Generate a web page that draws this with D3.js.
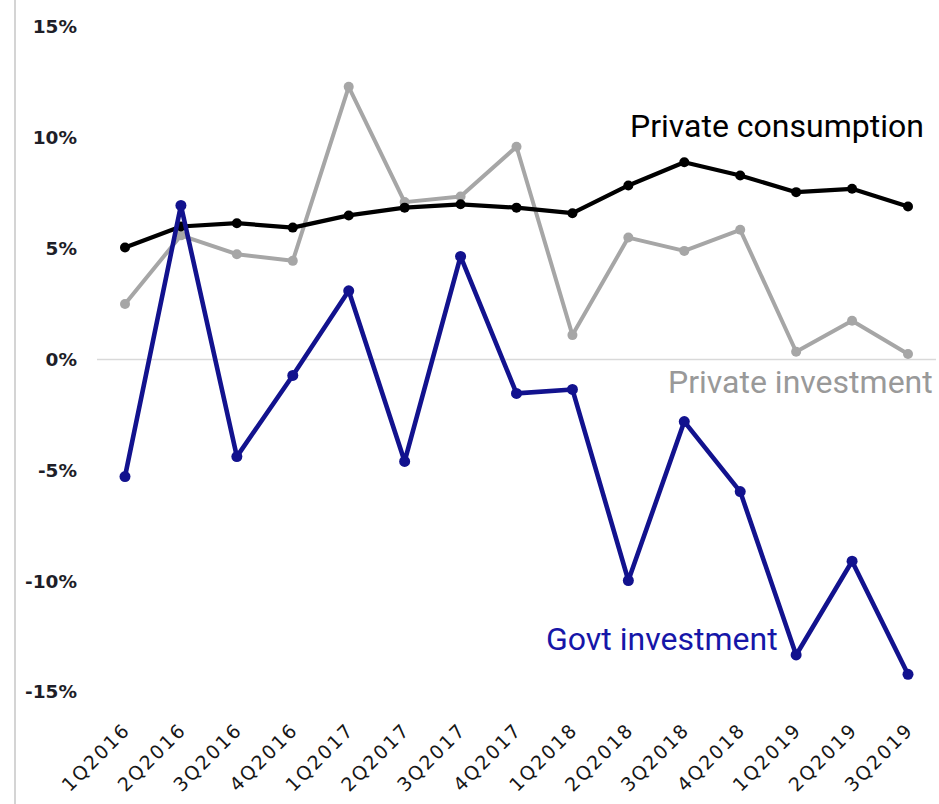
<!DOCTYPE html>
<html>
<head>
<meta charset="utf-8">
<script src="https://cdn.jsdelivr.net/npm/d3@7"></script>
<style>
  html, body { margin: 0; padding: 0; background: #fff; }
  svg { display: block; }
</style>
</head>
<body>
<svg id="chart" width="939" height="804"></svg>
<script>
// Quarterly growth rates (%, year on year)
const quarters = ["1Q2016","2Q2016","3Q2016","4Q2016","1Q2017","2Q2017","3Q2017","4Q2017",
                  "1Q2018","2Q2018","3Q2018","4Q2018","1Q2019","2Q2019","3Q2019"];
const privateConsumption = [5.05, 6.0, 6.15, 5.95, 6.5, 6.85, 7.0, 6.85, 6.6, 7.85, 8.9, 8.3, 7.55, 7.7, 6.9];
const privateInvestment  = [2.5, 5.6, 4.75, 4.45, 12.3, 7.1, 7.35, 9.6, 1.1, 5.5, 4.9, 5.85, 0.35, 1.75, 0.25];
const govtInvestment     = [-5.28, 6.95, -4.38, -0.72, 3.1, -4.6, 4.65, -1.53, -1.35, -9.97, -2.8, -5.96, -13.33, -9.1, -14.2];
const yTicks = [15, 10, 5, 0, -5, -10, -15];

const svg = d3.select("#chart");

const x = d3.scalePoint().domain(quarters).range([125, 908]);
const y = d3.scaleLinear().domain([-15, 15]).range([692, 27]);

// left frame line
svg.append("line")
  .attr("x1", 15).attr("x2", 15).attr("y1", 0).attr("y2", 804)
  .attr("stroke", "#d4d4d4").attr("stroke-width", 2);

// zero baseline
svg.append("line")
  .attr("x1", 97).attr("x2", 936).attr("y1", y(0)).attr("y2", y(0))
  .attr("stroke", "#d9d9d9").attr("stroke-width", 1.5);

// y axis labels
const yAxis = d3.axisLeft(y).tickValues(yTicks).tickSize(0).tickPadding(0)
  .tickFormat(d => d + "%");
svg.append("g")
  .attr("transform", "translate(77,0)")
  .call(yAxis)
  .call(g => g.select(".domain").remove())
  .call(g => g.selectAll("text")
    .attr("font-family", "'DejaVu Sans', Verdana, sans-serif")
    .attr("font-weight", "bold")
    .attr("font-size", 18.5)
    .attr("fill", "#1e1e28"));

// x axis labels, rotated
const xAxis = d3.axisBottom(x).tickSize(0).tickPadding(0);
svg.append("g")
  .attr("transform", "translate(0,727)")
  .call(xAxis)
  .call(g => g.select(".domain").remove())
  .call(g => g.selectAll("text")
    .attr("font-family", "'DejaVu Sans', Verdana, sans-serif")
    .attr("font-size", 19)
    .attr("letter-spacing", 2)
    .attr("fill", "#161616")
    .attr("text-anchor", "end")
    .attr("dy", "0.3em")
    .attr("transform", "translate(2,0) rotate(-45)"));

const line = d3.line().x((d, i) => x(quarters[i])).y(d => y(d));

function drawSeries(values, color, width, r) {
  const g = svg.append("g");
  g.append("path")
    .datum(values)
    .attr("d", line)
    .attr("fill", "none")
    .attr("stroke", color)
    .attr("stroke-width", width)
    .attr("stroke-linejoin", "round");
  g.selectAll("circle")
    .data(values)
    .join("circle")
    .attr("cx", (d, i) => x(quarters[i]))
    .attr("cy", d => y(d))
    .attr("r", r)
    .attr("fill", color);
}

drawSeries(privateInvestment, "#a6a6a6", 4, 5);
drawSeries(privateConsumption, "#000000", 4.2, 5);
drawSeries(govtInvestment, "#12128e", 4.6, 5.5);

// series labels
const labelFont = "Roboto, 'Noto Sans', sans-serif";
svg.append("text").attr("x", 630).attr("y", 137)
  .attr("font-family", labelFont).attr("font-size", 32).attr("fill", "#000")
  .text("Private consumption");
svg.append("text").attr("x", 668).attr("y", 393)
  .attr("font-family", labelFont).attr("font-size", 32).attr("fill", "#999999")
  .text("Private investment");
svg.append("text").attr("x", 546).attr("y", 650)
  .attr("font-family", labelFont).attr("font-size", 32).attr("fill", "#1616a8")
  .text("Govt investment");
</script>
</body>
</html>
